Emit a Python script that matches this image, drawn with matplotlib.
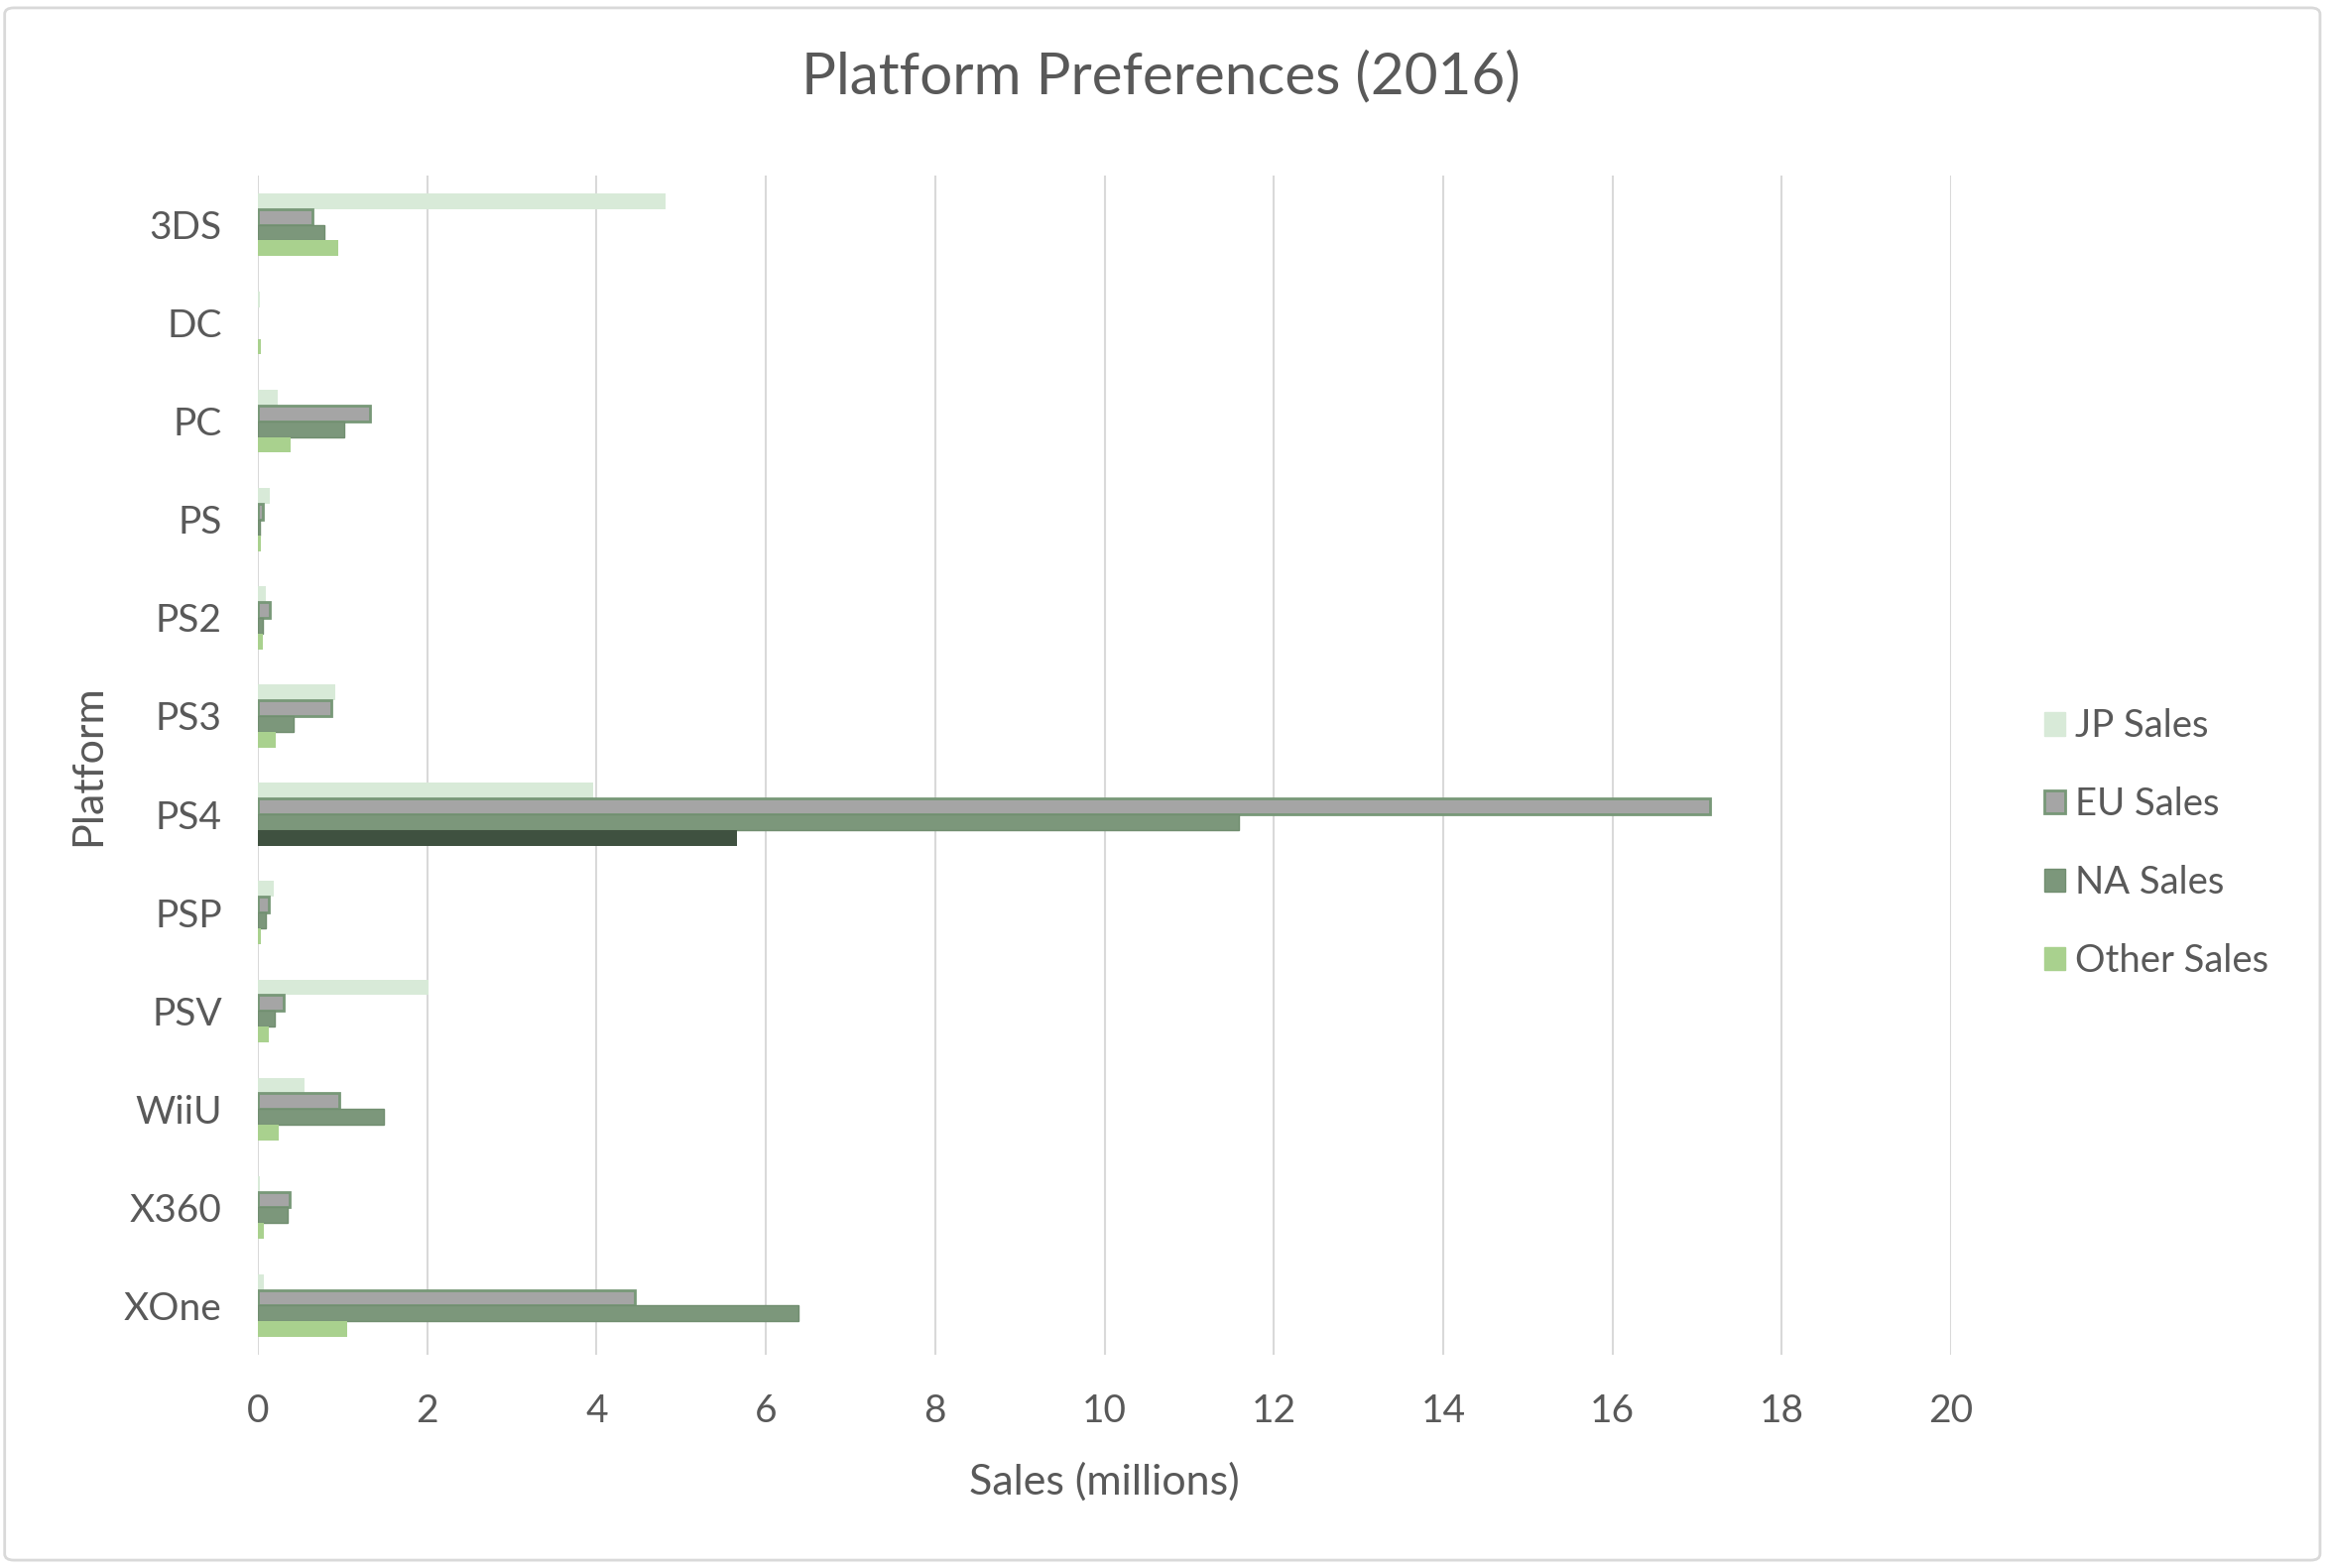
import matplotlib.pyplot as plt
import numpy as np
from matplotlib.patches import FancyBboxPatch, Patch

# Platform sales in 2016 (millions)
platforms = ['3DS', 'DC', 'PC', 'PS', 'PS2', 'PS3', 'PS4', 'PSP', 'PSV', 'WiiU', 'X360', 'XOne']
jp_sales = [4.82, 0.03, 0.24, 0.14, 0.09, 0.92, 3.96, 0.19, 2.01, 0.55, 0.03, 0.07]
eu_sales = [0.64, 0.00, 1.32, 0.06, 0.14, 0.87, 17.15, 0.13, 0.30, 0.96, 0.38, 4.45]
na_sales = [0.79, 0.00, 1.02, 0.03, 0.06, 0.42, 11.59, 0.09, 0.20, 1.49, 0.35, 6.38]
other_sales = [0.95, 0.04, 0.39, 0.04, 0.06, 0.21, 5.66, 0.04, 0.13, 0.25, 0.07, 1.06]
series_names = ['JP Sales', 'EU Sales', 'NA Sales', 'Other Sales']
x_ticks = [0, 2, 4, 6, 8, 10, 12, 14, 16, 18, 20]

TEXT = '#595959'
GRID = '#D9D9D9'
JP_C = '#D8EAD8'
EU_C = '#A5A5A5'
EU_EDGE = '#789878'
NA_C = '#7C977B'
NA_EDGE = '#718E70'
OTHER_C = '#A9D18E'
OTHER_HL = '#3F5140'

plt.rcParams.update({
    'font.family': ['Lato', 'DejaVu Sans'],
    'text.color': TEXT,
})

fig = plt.figure(figsize=(23.46, 15.81), dpi=100)
ax = fig.add_axes([0.1108, 0.136, 0.7277, 0.752])

y = np.arange(len(platforms))
h = 0.16

def widths(vals, lw):
    return [lw if v > 0 else 0 for v in vals]

ax.barh(y - 1.5 * h, jp_sales, height=h, color=JP_C, linewidth=0, zorder=3)
ax.barh(y - 0.5 * h, eu_sales, height=h, color=EU_C, edgecolor=EU_EDGE,
        linewidth=widths(eu_sales, 2.0), zorder=3)
ax.barh(y + 0.5 * h, na_sales, height=h, color=NA_C, edgecolor=NA_EDGE,
        linewidth=widths(na_sales, 1.0), zorder=3)
other_colors = [OTHER_HL if p == 'PS4' else OTHER_C for p in platforms]
ax.barh(y + 1.5 * h, other_sales, height=h, color=other_colors, linewidth=0, zorder=3)

ax.set_xlim(0, 20)
ax.set_ylim(len(platforms) - 0.5, -0.5)
ax.set_yticks(y)
ax.set_yticklabels(platforms)
ax.set_xticks(x_ticks)
ax.tick_params(axis='both', length=0, labelsize=28, colors=TEXT)
ax.tick_params(axis='y', pad=26)
ax.tick_params(axis='x', pad=28)
ax.grid(axis='x', color=GRID, linewidth=1.5, zorder=0)
for side in ['top', 'right', 'bottom', 'left']:
    ax.spines[side].set_visible(False)

ax.set_xlabel('Sales (millions)', fontsize=31, color=TEXT, labelpad=24)
ax.set_ylabel('Platform', fontsize=31, color=TEXT, labelpad=12)

fig.text(0.4987, 0.951, 'Platform Preferences (2016)', ha='center', va='center',
         fontsize=42, color=TEXT)

handles = [
    Patch(facecolor=JP_C, edgecolor=JP_C),
    Patch(facecolor=EU_C, edgecolor=EU_EDGE, linewidth=2),
    Patch(facecolor=NA_C, edgecolor=NA_EDGE),
    Patch(facecolor=OTHER_C, edgecolor=OTHER_C),
]
fig.legend(handles, series_names, loc='center left', bbox_to_anchor=(0.8785, 0.462),
           frameon=False, fontsize=27.5, labelcolor=TEXT, handlelength=0.56,
           handleheight=0.56, handletextpad=0.25, labelspacing=1.12, borderpad=0,
           borderaxespad=0)

border = FancyBboxPatch((0.002, 0.005), 0.995, 0.99, boxstyle='round,pad=0,rounding_size=0.004',
                        transform=fig.transFigure, facecolor='none', edgecolor=GRID, linewidth=2)
fig.patches.append(border)

fig.savefig('out.png', dpi=100)
